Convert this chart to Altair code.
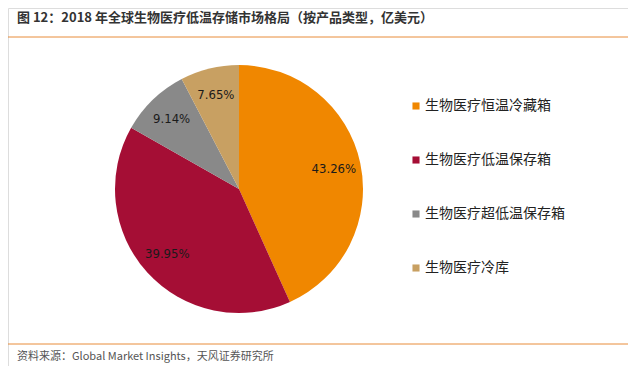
import altair as alt
import pandas as pd

categories = ["生物医疗恒温冷藏箱", "生物医疗低温保存箱", "生物医疗超低温保存箱", "生物医疗冷库"]
values = [43.26, 39.95, 9.14, 7.65]
labels = ["43.26%", "39.95%", "9.14%", "7.65%"]
colors = ["#F08700", "#A50E35", "#898989", "#C8A062"]
title_text = "图 12：2018 年全球生物医疗低温存储市场格局（按产品类型，亿美元）"
source_text = "资料来源：Global Market Insights，天风证券研究所"

df = pd.DataFrame({"cat": categories, "val": values, "lab": labels, "idx": list(range(len(values)))})

CX, CY = 231, 181
FONT = "Noto Sans CJK SC"

base = alt.Chart(df).encode(
    theta=alt.Theta("val:Q", stack=True),
    order=alt.Order("idx:Q"),
)

pie = base.mark_arc(outerRadius=124, stroke=None).encode(
    x=alt.value(CX), y=alt.value(CY),
    color=alt.Color(
        "cat:N",
        scale=alt.Scale(domain=categories, range=colors),
        legend=alt.Legend(
            orient="none", legendX=401, legendY=91, title=None,
            symbolType="square", symbolSize=50, symbolStrokeWidth=0,
            labelFont=FONT, labelFontSize=14, labelColor="#222222",
            rowPadding=40, labelLimit=300, labelOffset=2,
        ),
    ),
)

text = base.mark_text(
    radius=97, font="DejaVu Sans Condensed, Liberation Sans, sans-serif",
    fontSize=13, color="#1a1a1a"
).encode(x=alt.value(CX), y=alt.value(CY), text="lab:N")

tdf = pd.DataFrame({"t": [title_text]})
title = alt.Chart(tdf).mark_text(
    align="left", baseline="middle", font=FONT, fontSize=13, fontWeight="bold", color="#333333"
).encode(text="t:N", x=alt.value(9), y=alt.value(10))

sdf = pd.DataFrame({"t": [source_text]})
source = alt.Chart(sdf).mark_text(
    align="left", baseline="middle", font=FONT, fontSize=11, color="#555555"
).encode(text="t:N", x=alt.value(9), y=alt.value(349))

rule1 = alt.Chart(tdf).mark_rule(color="#E88C3A", strokeWidth=1).encode(
    x=alt.value(0), x2=alt.value(620), y=alt.value(29)
)
rule2 = alt.Chart(tdf).mark_rule(color="#E88C3A", strokeWidth=1).encode(
    x=alt.value(0), x2=alt.value(620), y=alt.value(336)
)

chart = alt.layer(pie, text, title, source, rule1, rule2).properties(
    width=620, height=358, autosize=alt.AutoSizeParams(type="none"), padding=0
).configure_view(stroke=None).configure(background="white")

chart.save("out.html", embed_options={"renderer": "svg", "actions": False})
